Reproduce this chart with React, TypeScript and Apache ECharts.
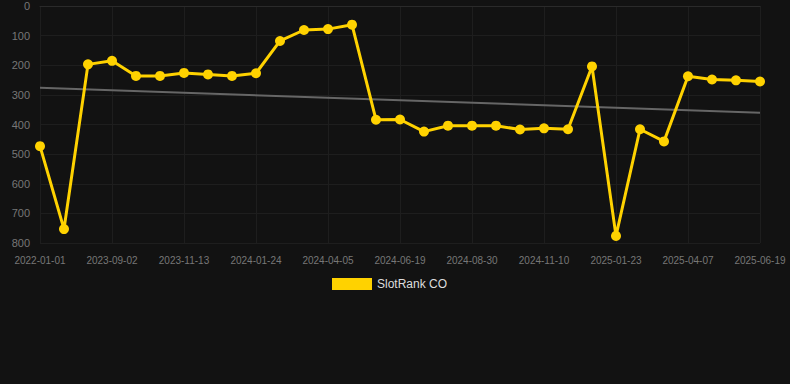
import React, { useEffect, useRef } from "react";
import * as echarts from "echarts";

const dates = [
  "2022-01-01", "2022-03-01", "2023-07-01", "2023-09-02", "2023-09-26", "2023-10-20",
  "2023-11-13", "2023-12-07", "2023-12-31", "2024-01-24", "2024-02-17", "2024-03-12",
  "2024-04-05", "2024-04-30", "2024-05-25", "2024-06-19", "2024-07-13", "2024-08-06",
  "2024-08-30", "2024-09-23", "2024-10-17", "2024-11-10", "2024-12-05", "2024-12-29",
  "2025-01-23", "2025-02-16", "2025-03-13", "2025-04-07", "2025-05-01", "2025-05-26",
  "2025-06-19",
];
const rankValues = [
  473, 753, 197, 185, 236, 236, 226, 231, 236, 227, 118, 81, 78, 63, 384, 383,
  424, 404, 404, 404, 417, 413, 416, 204, 776, 416, 457, 237, 248, 251, 255,
];
const trendStart = 276;
const trendEnd = 360;
const yTicks = [0, 100, 200, 300, 400, 500, 600, 700, 800];

export default function App() {
  const ref = useRef<HTMLDivElement>(null);
  useEffect(() => {
    if (!ref.current) return;
    const chart = echarts.init(ref.current, undefined, { renderer: "svg" });
    chart.setOption({
      animation: false,
      backgroundColor: "#121212",
      grid: { left: 40, right: 30, top: 6, bottom: 141, containLabel: false },
      legend: {
        top: 273,
        left: 327,
        itemWidth: 40,
        itemHeight: 12,
        itemGap: 10,
        textStyle: { color: "#dddddd", fontSize: 12, fontFamily: "Liberation Sans, Arial, sans-serif" },
        data: [{ name: "SlotRank CO", icon: "rect" }],
      },
      xAxis: {
        type: "category",
        data: dates,
        boundaryGap: false,
        axisLine: { show: true, lineStyle: { color: "#2a2a2a" } },
        axisTick: { show: false },
        axisLabel: {
          interval: 2,
          color: "#777777",
          fontSize: 10,
          margin: 12,
          fontFamily: "Liberation Sans, Arial, sans-serif",
        },
        splitLine: { show: true, interval: 2, lineStyle: { color: "#1e1e1e" } },
      },
      yAxis: {
        type: "value",
        inverse: true,
        min: yTicks[0],
        max: yTicks[yTicks.length - 1],
        interval: 100,
        axisLine: { show: false },
        axisTick: { show: false },
        axisLabel: {
          color: "#777777",
          fontSize: 11,
          margin: 10,
          fontFamily: "Liberation Sans, Arial, sans-serif",
        },
        splitLine: { lineStyle: { color: "#1e1e1e" } },
      },
      series: [
        {
          name: "Trend",
          type: "line",
          data: [[0, trendStart], [dates.length - 1, trendEnd]],
          symbol: "none",
          lineStyle: { color: "#666666", width: 2 },
          silent: true,
          z: 1,
        },
        {
          name: "SlotRank CO",
          type: "line",
          data: rankValues,
          symbol: "circle",
          symbolSize: 10,
          itemStyle: { color: "#ffd200" },
          lineStyle: { color: "#ffd200", width: 3 },
          z: 2,
        },
      ],
    });
    return () => chart.dispose();
  }, []);
  return (
    <div
      ref={ref}
      style={{ position: "fixed", left: 0, top: 0, width: 790, height: 384 }}
    />
  );
}
